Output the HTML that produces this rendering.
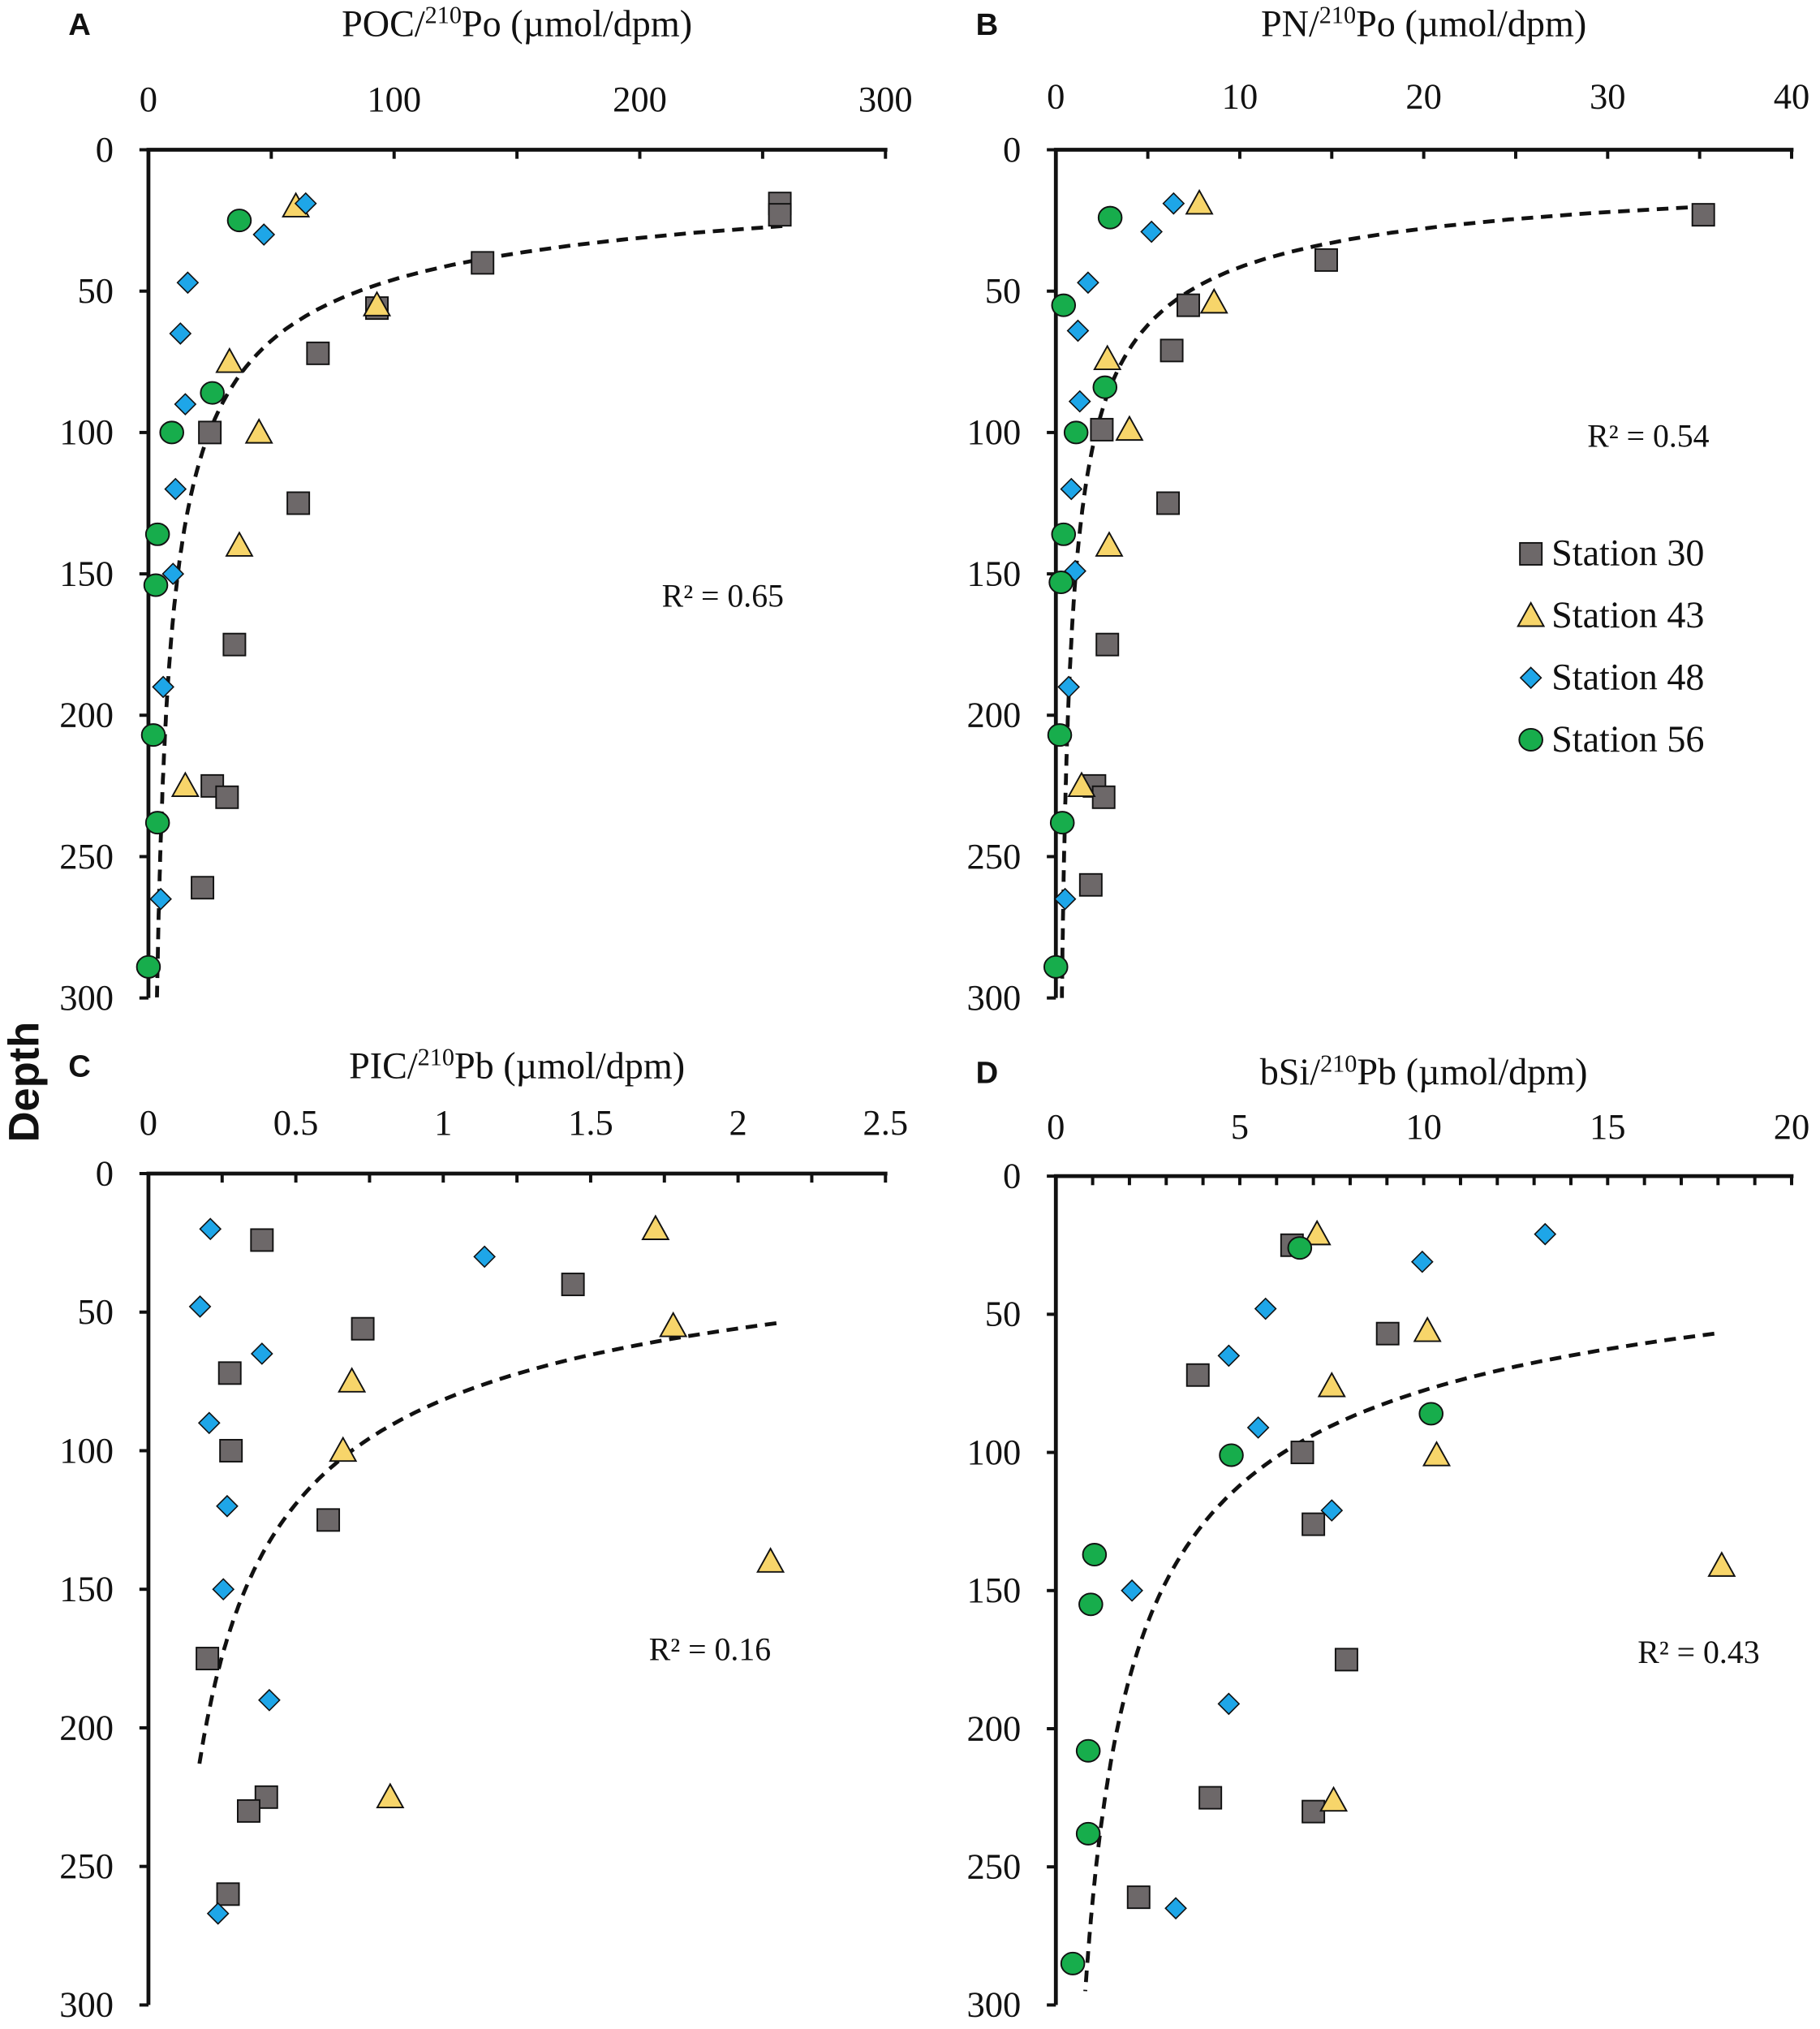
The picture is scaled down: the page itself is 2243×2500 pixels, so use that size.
<!DOCTYPE html>
<html><head><meta charset="utf-8"><style>
html,body{margin:0;padding:0;background:#fff;}
svg{display:block;}
svg text{font-family:"Liberation Serif","DejaVu Serif",serif;fill:#111;}
svg text.sans{font-family:"Liberation Sans",sans-serif;}
</style></head><body>
<svg id="fig" width="2243" height="2500" viewBox="0 0 1410 1571.6" preserveAspectRatio="none" xmlns="http://www.w3.org/2000/svg" font-family="Liberation Serif, serif"></svg>
<script>
// ---- data ----
const aS30=[[257,19],[257,23],[136,40],[93,56],[69,72],[25,100],[61,125],[35,175],[26,225],[32,229],[22,261]];
const aS43=[[60,20],[93,55],[33,75],[45,100],[37,140],[15,225]];
const aS48=[[64,19],[47,30],[16,47],[13,65],[15,90],[11,120],[10,150],[6,190],[5,265]];
const aS56=[[37,25],[26,86],[9.5,100],[3.7,136],[3,154],[2,207],[3.7,238],[0,289]];
const bS30=[[35.2,23],[14.7,39],[7.2,55],[6.3,71],[2.5,99],[6.1,125],[2.8,175],[2.1,225],[2.6,229],[1.9,260]];
const bS43=[[7.8,19],[8.6,54],[2.8,74],[4,99],[2.9,140],[1.4,225]];
const bS48=[[6.4,19],[5.2,29],[1.75,47],[1.2,64],[1.3,89],[0.84,120],[1.05,149],[0.7,190],[0.5,265]];
const bS56=[[2.95,24],[0.42,55],[2.67,84],[1.1,100],[0.42,136],[0.28,153],[0.21,207],[0.35,238],[0,289]];
const cS30=[[0.385,24],[1.44,40],[0.727,56],[0.276,72],[0.28,100],[0.61,125],[0.2,175],[0.4,225],[0.34,230],[0.27,260]];
const cS43=[[1.72,20],[1.78,55],[0.69,75],[0.66,100],[2.11,140],[0.82,225]];
const cS48=[[0.21,20],[1.14,30],[0.175,48],[0.385,65],[0.206,90],[0.267,120],[0.254,150],[0.41,190],[0.236,267]];
const cS56=[];
const dS30=[[6.42,25],[9.02,57],[3.86,72],[6.7,100],[7.0,126],[7.9,175],[4.2,225],[7.0,230],[2.25,261]];
const dS43=[[7.1,21],[10.1,56],[7.5,76],[10.35,101],[18.1,141],[7.55,226]];
const dS48=[[13.3,21],[9.96,31],[5.7,48],[4.7,65],[5.5,91],[7.5,121],[2.07,150],[4.7,191],[3.26,265]];
const dS56=[[6.63,26],[10.2,86],[4.77,101],[1.05,137],[0.95,155],[0.88,208],[0.88,238],[0.46,285]];
// power fit: value = a*(depth/d0)^b, from dmin to dmax
const fitA=[258,27,-1.79,27,300];
const fitB=[35.4,20,-1.73,20,300];
const fitC=[2.13,54,-1.83,54,215];
const fitD=[17.9,57,-1.89,57,295];
const ticksA=[0,100,200,300], ticksB=[0,10,20,30,40], ticksC=[0,0.5,1,1.5,2,2.5], ticksD=[0,5,10,15,20];
const depthTicks=[0,50,100,150,200,250,300];
const r2=["R² = 0.65","R² = 0.54","R² = 0.16","R² = 0.43"];

const NS="http://www.w3.org/2000/svg";
const SERIF='"Liberation Serif", serif';
const svg=document.getElementById('fig');
function mk(tag,attrs,parent){const e=document.createElementNS(NS,tag);for(const k in attrs)e.setAttribute(k,attrs[k]);if(tag==='text'&&!attrs['class'])e.setAttribute('font-family',SERIF);(parent||svg).appendChild(e);return e;}

const panels=[
 {id:'a',letter:'A',x0:115,x1:686,y0:116,y1:773,max:300,ticks:ticksA,minor:50,lab:'POC/',iso:'210',el:'Po',titleY:18,tickY:77,data:[aS30,aS43,aS48,aS56],fit:fitA,r2:[560,462,r2[0]]},
 {id:'b',letter:'B',x0:818,x1:1388,y0:116,y1:773,max:40,ticks:ticksB,minor:5,lab:'PN/',iso:'210',el:'Po',titleY:18,tickY:75,data:[bS30,bS43,bS48,bS56],fit:fitB,r2:[1277,338,r2[1]]},
 {id:'c',letter:'C',x0:115,x1:686,y0:909,y1:1553,max:2.5,ticks:ticksC,minor:0.25,lab:'PIC/',iso:'210',el:'Pb',titleY:825,tickY:870,data:[cS30,cS43,cS48,cS56],fit:fitC,r2:[550,1278,r2[2]]},
 {id:'d',letter:'D',x0:818,x1:1388,y0:911,y1:1553,max:20,ticks:ticksD,minor:1,lab:'bSi/',iso:'210',el:'Pb',titleY:830,tickY:873,data:[dS30,dS43,dS48,dS56],fit:fitD,r2:[1316,1280,r2[3]]}
];
const stNames=['station-30','station-43','station-48','station-56'];

function marker(kind,cx,cy,g){
  let e;
  if(kind===0) e=mk('rect',{x:cx-8.5,y:cy-8.5,width:17,height:17,fill:'#6d6869',stroke:'#111','stroke-width':1.2},g);
  else if(kind===1) e=mk('polygon',{points:`${cx},${cy-10} ${cx+10},${cy+8} ${cx-10},${cy+8}`,fill:'#f7d56a',stroke:'#111','stroke-width':1.2},g);
  else if(kind===2) e=mk('polygon',{points:`${cx},${cy-8} ${cx+8},${cy} ${cx},${cy+8} ${cx-8},${cy}`,fill:'#1ea6e8',stroke:'#111','stroke-width':1},g);
  else e=mk('ellipse',{cx:cx,cy:cy,rx:9,ry:8.5,fill:'#17ad4c',stroke:'#111','stroke-width':1.2},g);
  return e;
}

panels.forEach(p=>{
  const g=mk('g',{});
  
  
  const X=v=>p.x0+(v/p.max)*(p.x1-p.x0);
  const Y=d=>p.y0+(d/300)*(p.y1-p.y0);
  const L=mk('text',{x:p.x0-62,y:p.titleY+9,'font-size':24,'font-weight':'bold','class':'sans','font-family':'Liberation Sans, sans-serif'},g);
  L.textContent=p.letter;
  
  
  const t=mk('text',{x:(p.x0+p.x1)/2,y:p.titleY+10,'font-size':29,'text-anchor':'middle'},g);
  
  
  t.innerHTML=p.lab+'<tspan font-size="19" dy="-10">'+p.iso+'</tspan><tspan dy="10">'+p.el+' (µmol/dpm)</tspan>';
  const xa=mk('line',{x1:p.x0-1.5,y1:p.y0,x2:p.x1+1.5,y2:p.y0,stroke:'#111','stroke-width':3},g);
  
  
  const ya=mk('line',{x1:p.x0,y1:p.y0,x2:p.x0,y2:p.y1,stroke:'#111','stroke-width':3},g);
  
  
  for(let v=p.minor;v<=p.max+1e-9;v+=p.minor){mk('line',{x1:X(v),y1:p.y0,x2:X(v),y2:p.y0+7,stroke:'#111','stroke-width':2.5},g);}
  depthTicks.forEach(d=>{mk('line',{x1:p.x0-7,y1:Y(d),x2:p.x0,y2:Y(d),stroke:'#111','stroke-width':2.5},g);
    const tl=mk('text',{x:p.x0-27,y:Y(d)+9,'font-size':28,'text-anchor':'end'},g);
    tl.textContent=d;
    
    });
  p.ticks.forEach(v=>{const tl=mk('text',{x:X(v),y:p.tickY+9,'font-size':28,'text-anchor':'middle'},g);
    tl.textContent=String(v);
    
    });
  const f=p.fit;let pts=[];
  for(let i=0;i<=120;i++){const d=f[3]+(f[4]-f[3])*i/120;pts.push(X(f[0]*Math.pow(d/f[1],f[2])).toFixed(1)+','+Y(d).toFixed(1));}
  const fl=mk('polyline',{points:pts.join(' '),fill:'none',stroke:'#111','stroke-width':3,'stroke-dasharray':'9,6'},g);
  
  
  p.data.forEach((s,k)=>s.forEach(pt=>{const m=marker(k,X(pt[0]),Y(pt[1]),g);
    
    }));
  const rt=mk('text',{x:p.r2[0],y:p.r2[1]+8,'font-size':25,'text-anchor':'middle'},g);
  rt.textContent=p.r2[2];
  
  
});
const dl=mk('text',{x:0,y:0,'font-size':33,'font-weight':'bold','text-anchor':'middle',transform:'translate(30,838) rotate(-90)','class':'sans','font-family':'Liberation Sans, sans-serif'});
dl.textContent='Depth';


const lg=mk('g',{});


['Station 30','Station 43','Station 48','Station 56'].forEach((n,k)=>{
  const y=429+k*48;
  const eg=mk('g',{},lg);
  
  
  marker(k,1186,y,eg);
  const t=mk('text',{x:1202,y:y+9,'font-size':29},eg);t.textContent=n;
});
</script>
</body></html>
